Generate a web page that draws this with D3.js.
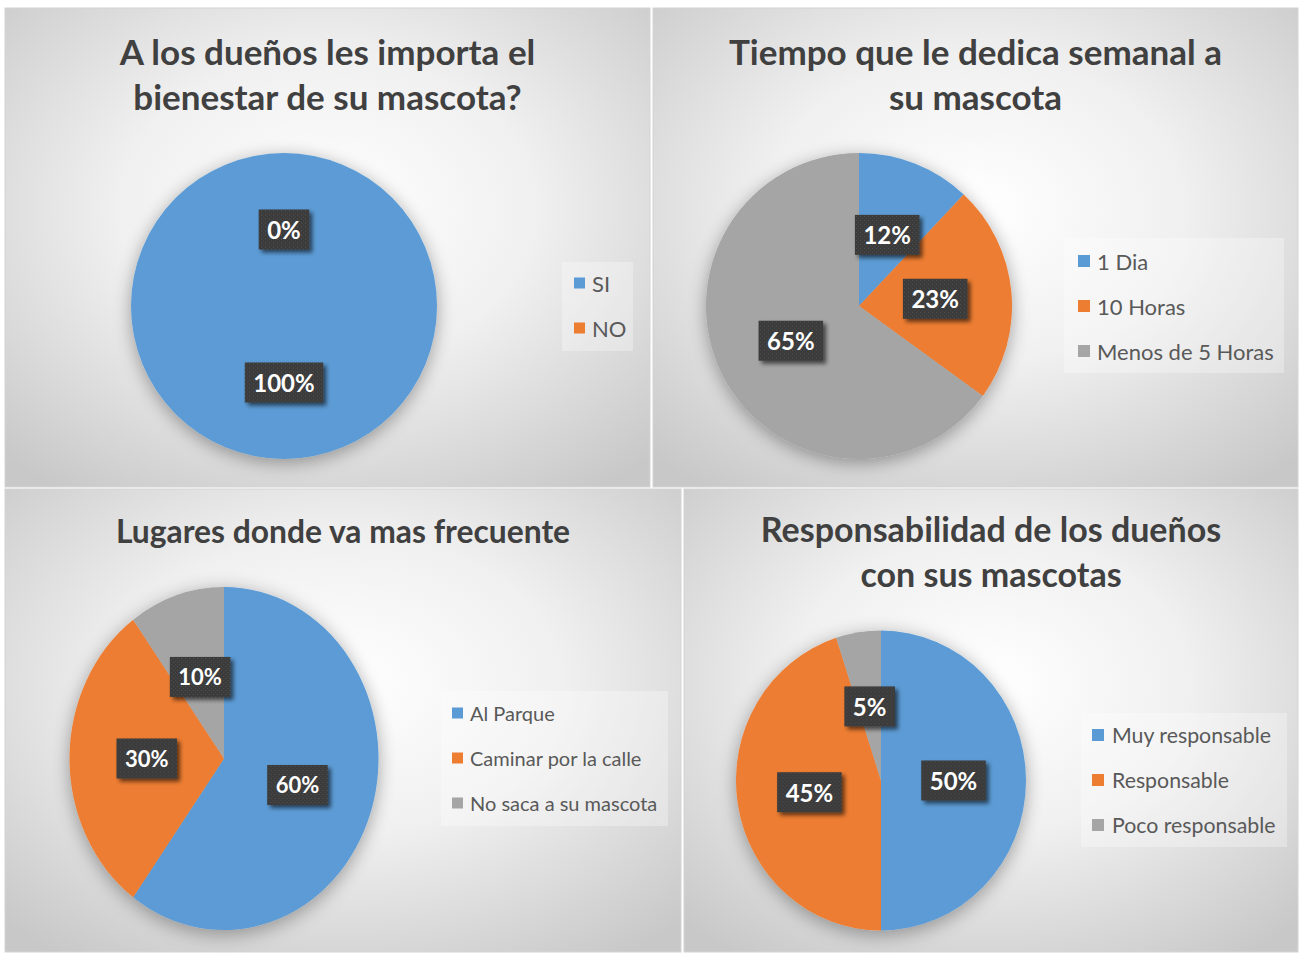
<!DOCTYPE html>
<html>
<head>
<meta charset="utf-8">
<script src="https://cdn.jsdelivr.net/npm/d3@7"></script>
<style>
  html, body { margin: 0; padding: 0; background: #ffffff; }
  svg { display: block; }
</style>
</head>
<body>
<svg id="chart" width="1300" height="955"></svg>
<script>
// ---------- DATA ----------
const title1 = ["A los dueños les importa el", "bienestar de su mascota?"];
const categories1 = ["SI", "NO"];
const values1 = [100, 0];

const title2 = ["Tiempo que le dedica semanal a", "su mascota"];
const categories2 = ["1 Dia", "10 Horas", "Menos de 5 Horas"];
const values2 = [12, 23, 65];

const title3 = ["Lugares donde va mas frecuente"];
const categories3 = ["Al Parque", "Caminar por la calle", "No saca a su mascota"];
const values3 = [60, 30, 10];

const title4 = ["Responsabilidad de los dueños", "con sus mascotas"];
const categories4 = ["Muy responsable", "Responsable", "Poco responsable"];
const values4 = [50, 45, 5];

const palette = ["#5B9BD5", "#ED7D31", "#A5A5A5"];

// ---------- LAYOUT ----------
const charts = [
  { title: title1, cats: categories1, vals: values1,
    panel: {x: 5, y: 8, w: 645, h: 479}, titleY: 65, titleSize: 35, legendSize: 22, labelSize: 24,
    pie: {cx: 284, cy: 306, rx: 153, ry: 153},
    legend: {x: 562, y: 262, w: 71, h: 89, markX: 574, mark: 11, textX: 592, rowY: [283, 328]} },
  { title: title2, cats: categories2, vals: values2,
    panel: {x: 653, y: 8, w: 645, h: 479}, titleY: 65, titleSize: 35, legendSize: 22, labelSize: 24,
    pie: {cx: 859, cy: 306, rx: 153, ry: 153},
    legend: {x: 1064, y: 238, w: 220, h: 135, markX: 1078, mark: 12, textX: 1097, rowY: [261, 306, 351]} },
  { title: title3, cats: categories3, vals: values3,
    panel: {x: 5, y: 489, w: 676, h: 463}, titleY: 543, titleSize: 31.8, legendSize: 20, labelSize: 22,
    pie: {cx: 224, cy: 758.5, rx: 154.5, ry: 171.5},
    legend: {x: 441, y: 691, w: 227, h: 135, markX: 452, mark: 11, textX: 470, rowY: [713, 758, 803]} },
  { title: title4, cats: categories4, vals: values4,
    panel: {x: 684, y: 489, w: 614, h: 463}, titleY: 542, titleSize: 34, legendSize: 21.3, labelSize: 24,
    pie: {cx: 881, cy: 780.5, rx: 145, ry: 150},
    legend: {x: 1081, y: 713, w: 206, h: 134, markX: 1092, mark: 12, textX: 1112, rowY: [735, 780, 825]} }
];

const svg = d3.select("#chart");
const defs = svg.append("defs");

// panel background gradient
const grad = defs.append("radialGradient").attr("id", "panelGrad")
  .attr("cx", "50%").attr("cy", "42%").attr("r", "72%");
grad.append("stop").attr("offset", "0%").attr("stop-color", "#ffffff");
grad.append("stop").attr("offset", "45%").attr("stop-color", "#f0f0f0");
grad.append("stop").attr("offset", "100%").attr("stop-color", "#c8c8c8");

// pie shadow
const pf = defs.append("filter").attr("id", "pieShadow")
  .attr("x", "-30%").attr("y", "-30%").attr("width", "160%").attr("height", "160%");
pf.append("feGaussianBlur").attr("in", "SourceAlpha").attr("stdDeviation", 9).attr("result", "b");
pf.append("feOffset").attr("in", "b").attr("dx", 0).attr("dy", 4).attr("result", "o");
pf.append("feComponentTransfer").attr("in", "o").attr("result", "s")
  .append("feFuncA").attr("type", "linear").attr("slope", 0.35);
const pm = pf.append("feMerge");
pm.append("feMergeNode").attr("in", "s");
pm.append("feMergeNode").attr("in", "SourceGraphic");

// label shadow
const lf = defs.append("filter").attr("id", "lblShadow")
  .attr("x", "-30%").attr("y", "-30%").attr("width", "160%").attr("height", "160%");
lf.append("feGaussianBlur").attr("in", "SourceAlpha").attr("stdDeviation", 2).attr("result", "b");
lf.append("feOffset").attr("in", "b").attr("dx", 2.5).attr("dy", 2.5).attr("result", "o");
lf.append("feComponentTransfer").attr("in", "o").attr("result", "s")
  .append("feFuncA").attr("type", "linear").attr("slope", 0.6);
const lm = lf.append("feMerge");
lm.append("feMergeNode").attr("in", "s");
lm.append("feMergeNode").attr("in", "SourceGraphic");

// dotted dark pattern for label boxes
const pat = defs.append("pattern").attr("id", "dots")
  .attr("width", 4).attr("height", 4).attr("patternUnits", "userSpaceOnUse");
pat.append("rect").attr("width", 4).attr("height", 4).attr("fill", "#3a3a3a");
pat.append("rect").attr("x", 1).attr("y", 1).attr("width", 1).attr("height", 1).attr("fill", "#555555");
pat.append("rect").attr("x", 3).attr("y", 3).attr("width", 1).attr("height", 1).attr("fill", "#4b4b4b");

const pct = d3.format(".0%");

charts.forEach(c => {
  const g = svg.append("g");
  const P = c.panel;

  // panel
  g.append("rect")
    .attr("x", P.x).attr("y", P.y).attr("width", P.w).attr("height", P.h)
    .attr("fill", "url(#panelGrad)")
    .attr("stroke", "#d4d4d4").attr("stroke-width", 1);

  // title
  const t = g.append("text")
    .attr("x", P.x + P.w / 2).attr("y", c.titleY)
    .attr("text-anchor", "middle")
    .attr("font-family", "Lato, 'Open Sans', sans-serif")
    .attr("font-weight", 700).attr("font-size", c.titleSize)
    .attr("fill", "#404040");
  c.title.forEach((line, i) => {
    t.append("tspan").attr("x", P.x + P.w / 2).attr("dy", i === 0 ? 0 : 45).text(line);
  });

  // pie
  const total = d3.sum(c.vals);
  const color = d3.scaleOrdinal().domain(c.cats).range(palette);
  const pie = d3.pie().sort(null).value(d => d.v);
  const arcs = pie(c.cats.map((k, i) => ({k, v: c.vals[i]})));
  const R = c.pie.rx;
  const sy = c.pie.ry / c.pie.rx;
  const arc = d3.arc().innerRadius(0).outerRadius(R);

  const pg = g.append("g")
    .attr("transform", `translate(${c.pie.cx},${c.pie.cy}) scale(1,${sy})`)
    .attr("filter", "url(#pieShadow)");
  pg.selectAll("path").data(arcs).join("path")
    .attr("d", arc)
    .attr("fill", d => color(d.data.k));

  // data labels
  const lg = g.append("g").attr("transform", `translate(${c.pie.cx},${c.pie.cy})`);
  arcs.forEach(d => {
    const [x, y0] = arc.centroid(d);
    const y = y0 * sy;
    const lab = lg.append("g").attr("transform", `translate(${x},${y})`);
    const box = lab.append("rect").attr("fill", "url(#dots)").attr("filter", "url(#lblShadow)");
    const txt = lab.append("text")
      .attr("text-anchor", "middle").attr("dominant-baseline", "central")
      .attr("font-family", "Lato, 'Open Sans', sans-serif")
      .attr("font-weight", 700).attr("font-size", c.labelSize)
      .attr("fill", "#ffffff")
      .text(pct(total ? d.data.v / total : 0));
    const w = txt.node().getComputedTextLength() + 17;
    const h = 40;
    box.attr("x", -w / 2).attr("y", -h / 2).attr("width", w).attr("height", h);
  });

  // legend
  const L = c.legend;
  g.append("rect").attr("x", L.x).attr("y", L.y).attr("width", L.w).attr("height", L.h)
    .attr("fill", "#ffffff").attr("fill-opacity", 0.3);
  c.cats.forEach((k, i) => {
    g.append("rect").attr("x", L.markX).attr("y", L.rowY[i] - L.mark / 2)
      .attr("width", L.mark).attr("height", L.mark).attr("fill", color(k));
    g.append("text").attr("x", L.textX).attr("y", L.rowY[i])
      .attr("dominant-baseline", "central")
      .attr("font-family", "Lato, 'Open Sans', sans-serif")
      .attr("font-size", c.legendSize).attr("fill", "#595959")
      .text(k);
  });
});
</script>
</body>
</html>
